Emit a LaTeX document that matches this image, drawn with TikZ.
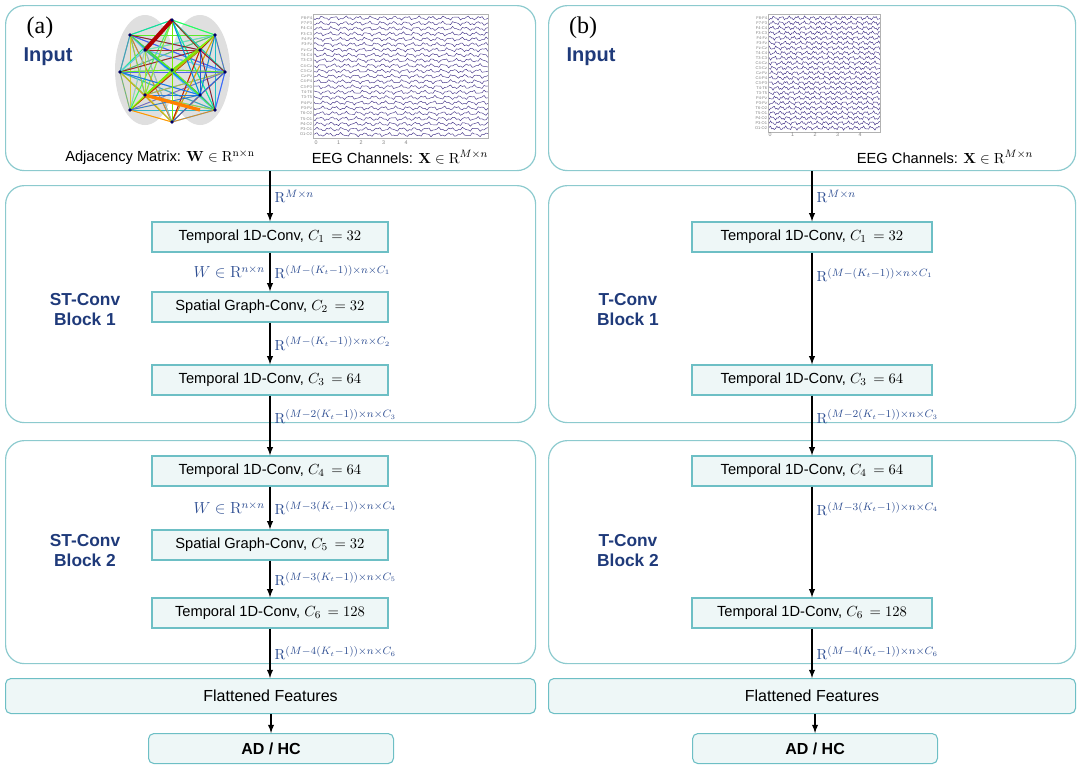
\documentclass[tikz,border=0pt]{standalone}
\usepackage[no-math]{fontspec}
\setmainfont{Liberation Sans}
\newfontfamily\tagfont{Liberation Serif}
\usetikzlibrary{positioning}
\definecolor{panelc}{HTML}{8CCACE}
\definecolor{boxc}{HTML}{6DBFC5}
\definecolor{boxfill}{HTML}{EEF7F7}
\definecolor{labc}{HTML}{1F3A7A}
\definecolor{mathc}{HTML}{2E4E92}
\definecolor{eegc}{HTML}{4A3A8C}
\tikzset{
  panel/.style={draw=panelc,line width=0.9pt,rounded corners=14pt,anchor=north west,inner sep=0pt},
  layerbox/.style={draw=boxc,line width=1pt,fill=boxfill,minimum width=177pt,minimum height=22.5pt,font=\fontsize{11}{13}\selectfont},
  flatbox/.style={draw=boxc,line width=0.8pt,fill=boxfill,rounded corners=4pt,anchor=north west,font=\fontsize{12}{14}\selectfont},
  blocklab/.style={text=labc,font=\fontsize{13}{15}\selectfont\bfseries,align=center},
  flow/.style={->,>=latex,line width=1.1pt},
  dimlab/.style={right,midway,text=mathc,font=\fontsize{11}{13}\selectfont,inner sep=3pt},
}
\newcommand{\eegtraces}[4]{% x0, x1, y0, dy
  \foreach \ch [count=\i from 0] in {F8-F4,F7-F3,F4-C4,F3-C3,F4-Fz,F3-Fz,Fz-Cz,T4-C4,T3-C3,C4-Cz,C3-Cz,Cz-Pz,C4-P4,C3-P3,T4-T6,T3-T5,P4-Pz,P3-Pz,T6-O2,T5-O1,P4-O2,P3-O1,O1-O2}{
    \node[font=\fontsize{3}{3}\selectfont,text=gray,anchor=east,inner sep=0.5pt] at (#1,#3+\i*#4) {\ch};
    \draw[eegc,line width=0.35pt] plot[domain=0:30,samples=90] ({#1+\x*(#2-#1)/30},{#3+\i*#4+1.3*sin(\x*173+\i*41)+0.9*sin(\x*431+\i*17)});
  }
  \draw[gray!60,line width=0.3pt] (#1,#3-4) rectangle (#2,#3+22*#4+4);
}
\begin{document}
\begin{tikzpicture}[x=0.75pt,y=-0.75pt]
\useasboundingbox (0,0) rectangle (1080,768);
% panels
\node (inA) [panel,minimum width=397.5pt,minimum height=123.75pt] at (5,5) {};
\node (blkA1) [panel,minimum width=397.5pt,minimum height=177.75pt] at (5,185) {};
\node (blkA2) [panel,minimum width=397.5pt,minimum height=167.25pt] at (5,440) {};
\node (inB) [panel,minimum width=395.25pt,minimum height=123.75pt] at (548,5) {};
\node (blkB1) [panel,minimum width=395.25pt,minimum height=177.75pt] at (548,185) {};
\node (blkB2) [panel,minimum width=395.25pt,minimum height=167.25pt] at (548,440) {};
% panel labels
\node (tagA) at (40,28) {\fontsize{18}{20}\selectfont\tagfont (a)};
\node (tagB) at (583,28) {\fontsize{18}{20}\selectfont\tagfont (b)};
\node (inlabA) [blocklab,font=\fontsize{15}{17}\selectfont\bfseries] at (48,57) {Input};
\node (inlabB) [blocklab,font=\fontsize{15}{17}\selectfont\bfseries] at (591,57) {Input};
\node (stA1) [blocklab] at (85,310) {ST-Conv\\Block 1};
\node (stA2) [blocklab] at (85,551) {ST-Conv\\Block 2};
\node (tB1) [blocklab] at (628,310) {T-Conv\\Block 1};
\node (tB2) [blocklab] at (628,551) {T-Conv\\Block 2};
% brain graph
\fill[gray!25] (145,70) ellipse (30 and 55);
\fill[gray!25] (200,70) ellipse (30 and 55);
\foreach \a/\b/\c in {130/35/cyan!70!blue,215/35/green!60!yellow,130/110/yellow!80!orange,215/110/cyan,
  120/72/teal!70,225/72/blue!70,172/20/green!50!cyan,172/122/orange,145/50/cyan!60,200/50/red!70!black,
  145/95/yellow!70!green,200/95/blue!60!cyan,172/70/green!60!yellow}{
  \foreach \p/\q in {130/35,215/35,130/110,215/110,120/72,225/72,172/20,172/122,145/50,200/50,145/95,200/95,172/70}{
    \draw[\c,line width=0.7pt,opacity=0.8] (\a,\b) -- (\p,\q);
  }
}
\draw[red!70!black,line width=3pt] (172,20) -- (145,50);
\draw[orange,line width=2.5pt] (145,95) -- (200,110);
\foreach \p/\q in {130/35,215/35,130/110,215/110,120/72,225/72,172/20,172/122,145/50,200/50,145/95,200/95,172/70}
  \fill[blue!40!black] (\p,\q) circle (1.8);
% EEG traces
\eegtraces{313}{488}{18}{5.3}
\foreach \t [count=\k from 0] in {0,1,2,3,4}
  \node[font=\fontsize{4}{4}\selectfont,text=gray] at (316+\k*22.5,143) {\t};
\eegtraces{768}{880}{18}{5.0}
\foreach \t [count=\k from 0] in {0,1,2,3,4}
  \node[font=\fontsize{4}{4}\selectfont,text=gray] at (770+\k*22.5,135) {\t};
% captions
\node (capW) [font=\fontsize{11}{13}\selectfont] at (160,157) {Adjacency Matrix: $\mathbf{W}\in\mathrm{R}^{\mathrm{n}\times\mathrm{n}}$};
\node (capX) [font=\fontsize{11}{13}\selectfont] at (400,157) {EEG Channels: $\mathbf{X}\in\mathrm{R}^{M\times n}$};
\node (capXB) [font=\fontsize{11}{13}\selectfont] at (945,157) {EEG Channels: $\mathbf{X}\in\mathrm{R}^{M\times n}$};
% layers (a)
\node (a1) [layerbox] at (270,237) {Temporal 1D-Conv, $C_1\,=32$};
\node (a2) [layerbox] at (270,307) {Spatial Graph-Conv, $C_2\,=32$};
\node (a3) [layerbox] at (270,380) {Temporal 1D-Conv, $C_3\,=64$};
\node (a4) [layerbox] at (270,471) {Temporal 1D-Conv, $C_4\,=64$};
\node (a5) [layerbox] at (270,545) {Spatial Graph-Conv, $C_5\,=32$};
\node (a6) [layerbox] at (270,613) {Temporal 1D-Conv, $C_6\,=128$};
\node (flatA) [flatbox,minimum width=397.5pt,minimum height=26.25pt] at (5,678) {};
\node at (flatA.center) [font=\fontsize{12}{14}\selectfont] {Flattened Features};
\node (outA) [flatbox,minimum width=183.75pt,minimum height=22.5pt] at (148,733) {};
\node at (outA.center) [font=\fontsize{12}{14}\selectfont\bfseries] {AD / HC};
% layers (b)
\node (b1) [layerbox,minimum width=180pt] at (812,237) {Temporal 1D-Conv, $C_1\,=32$};
\node (b3) [layerbox,minimum width=180pt] at (812,380) {Temporal 1D-Conv, $C_3\,=64$};
\node (b4) [layerbox,minimum width=180pt] at (812,471) {Temporal 1D-Conv, $C_4\,=64$};
\node (b6) [layerbox,minimum width=180pt] at (812,613) {Temporal 1D-Conv, $C_6\,=128$};
\node (flatB) [flatbox,minimum width=395.25pt,minimum height=26.25pt] at (548,678) {};
\node at (flatB.center) [font=\fontsize{12}{14}\selectfont] {Flattened Features};
\node (outB) [flatbox,minimum width=183.75pt,minimum height=22.5pt] at (692,733) {};
\node at (outB.center) [font=\fontsize{12}{14}\selectfont\bfseries] {AD / HC};
% flow (a)
\draw [flow] (inA.south -| a1) -- (a1.north) node[dimlab] {$\mathrm{R}^{M\times n}$};
\draw [flow] (a1) -- (a2) node[dimlab] {$\mathrm{R}^{(M-(K_t-1))\times n\times C_1}$}
  node[left,midway,text=mathc,font=\fontsize{12}{14}\selectfont] {$W\in\mathrm{R}^{n\times n}$};
\draw [flow] (a2) -- (a3) node[dimlab] {$\mathrm{R}^{(M-(K_t-1))\times n\times C_2}$};
\draw [flow] (a3) -- (a4) node[dimlab,pos=0.35] {$\mathrm{R}^{(M-2(K_t-1))\times n\times C_3}$};
\draw [flow] (a4) -- (a5) node[dimlab] {$\mathrm{R}^{(M-3(K_t-1))\times n\times C_4}$}
  node[left,midway,text=mathc,font=\fontsize{12}{14}\selectfont] {$W\in\mathrm{R}^{n\times n}$};
\draw [flow] (a5) -- (a6) node[dimlab] {$\mathrm{R}^{(M-3(K_t-1))\times n\times C_5}$};
\draw [flow] (a6) -- (a6 |- flatA.north) node[dimlab] {$\mathrm{R}^{(M-4(K_t-1))\times n\times C_6}$};
\draw [flow] (flatA.south -| outA) -- (outA.north);
% flow (b)
\draw [flow] (inB.south -| b1) -- (b1.north) node[dimlab] {$\mathrm{R}^{M\times n}$};
\draw [flow] (b1) -- (b3) node[dimlab,pos=0.2] {$\mathrm{R}^{(M-(K_t-1))\times n\times C_1}$};
\draw [flow] (b3) -- (b4) node[dimlab,pos=0.35] {$\mathrm{R}^{(M-2(K_t-1))\times n\times C_3}$};
\draw [flow] (b4) -- (b6) node[dimlab,pos=0.2] {$\mathrm{R}^{(M-3(K_t-1))\times n\times C_4}$};
\draw [flow] (b6) -- (b6 |- flatB.north) node[dimlab] {$\mathrm{R}^{(M-4(K_t-1))\times n\times C_6}$};
\draw [flow] (flatB.south -| outB) -- (outB.north);
\end{tikzpicture}
\end{document}
